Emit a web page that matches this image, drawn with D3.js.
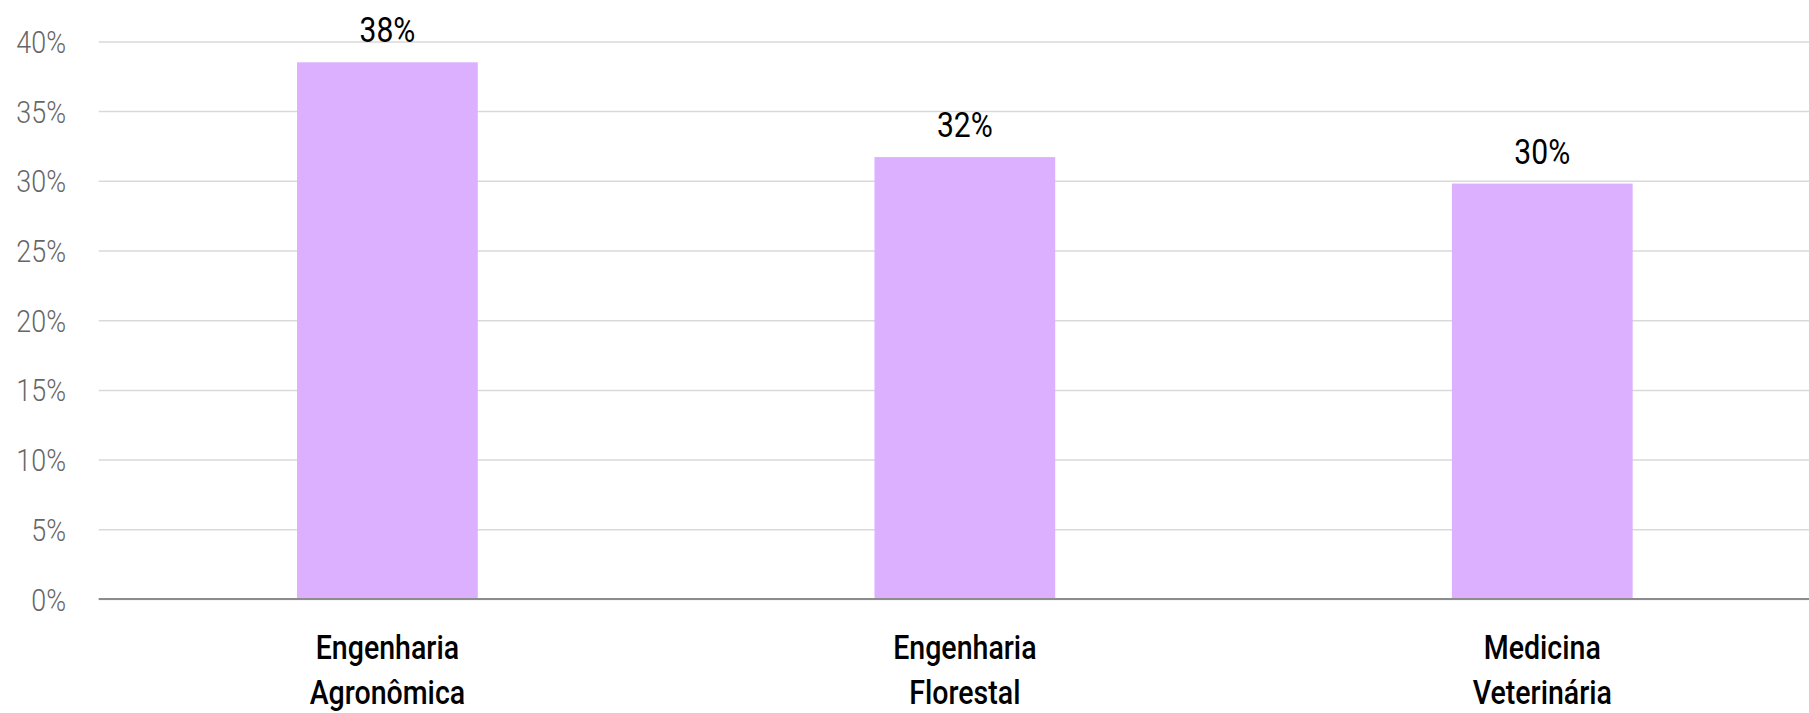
<!DOCTYPE html>
<html>
<head>
<meta charset="utf-8">
<script src="https://cdn.jsdelivr.net/npm/d3@7"></script>
<style>
    body { margin: 0; background: #fff; }
    svg { display: block; font-family: Roboto, "Noto Sans", sans-serif; }
</style>
</head>
<body>
<svg id="chart"></svg>
<script>
// categories (each split over two lines) and their shares
var categories = ['Engenharia Agronômica', 'Engenharia Florestal', 'Medicina Veterinária'];
var labelLines = [['Engenharia', 'Agronômica'], ['Engenharia', 'Florestal'], ['Medicina', 'Veterinária']];
var values = [0.385, 0.317, 0.298];
var valueLabels = ['38%', '32%', '30%'];
var yTicks = [0, 0.05, 0.10, 0.15, 0.20, 0.25, 0.30, 0.35, 0.40];

var width = 1809, height = 713;
var margin = {left: 98.7, top: 41.4, bottom: 599};
var squeeze = 0.84; // the original font is a condensed one

var svg = d3.select('#chart')
    .attr('width', width)
    .attr('height', height);

var x = d3.scaleBand()
    .domain(categories)
    .range([margin.left, 1831])
    .paddingInner(0.687)
    .paddingOuter(0.3435);

var y = d3.scaleLinear()
    .domain([0, 0.4])
    .range([margin.bottom, margin.top]);

var fmt = d3.format('.0%');

// gridlines
var grid = svg.append('g')
    .attr('transform', 'translate(' + margin.left + ',0)')
    .call(d3.axisLeft(y).tickValues(yTicks).tickSize(-(width - margin.left)).tickFormat(''));
grid.select('.domain').remove();
grid.selectAll('line')
    .attr('stroke', '#d9d9d9')
    .attr('stroke-width', 1.5);

// y tick labels, squeezed sideways
svg.append('g').selectAll('text')
    .data(yTicks)
    .join('text')
    .attr('transform', d => 'translate(66,' + y(d) + ') scale(' + squeeze + ',1)')
    .attr('dy', '0.36em')
    .attr('text-anchor', 'end')
    .attr('fill', '#666')
    .style('font-size', '32px')
    .style('font-weight', 300)
    .text(fmt);

// bars
svg.append('g').selectAll('rect')
    .data(categories)
    .join('rect')
    .attr('x', d => x(d))
    .attr('width', x.bandwidth())
    .attr('y', (d, i) => y(values[i]))
    .attr('height', (d, i) => y(0) - y(values[i]))
    .attr('fill', '#dcb0fe');

// baseline
svg.append('line')
    .attr('x1', margin.left)
    .attr('x2', width)
    .attr('y1', y(0))
    .attr('y2', y(0))
    .attr('stroke', '#8c8c8c')
    .attr('stroke-width', 2);

// value labels
svg.append('g').selectAll('text')
    .data(categories)
    .join('text')
    .attr('transform', (d, i) => 'translate(' + (x(d) + x.bandwidth() / 2) + ',' + (y(values[i]) - 20) + ') scale(0.86,1)')
    .attr('text-anchor', 'middle')
    .attr('fill', '#000')
    .style('font-size', '35px')
    .text((d, i) => valueLabels[i]);

// category labels
var catLabels = svg.append('g').selectAll('text')
    .data(categories)
    .join('text')
    .attr('transform', d => 'translate(' + (x(d) + x.bandwidth() / 2) + ',0) scale(' + squeeze + ',1)')
    .attr('text-anchor', 'middle')
    .attr('fill', '#000')
    .style('font-size', '34px')
    .style('font-weight', 500);

catLabels.selectAll('tspan')
    .data((d, i) => labelLines[i])
    .join('tspan')
    .attr('x', 0)
    .attr('y', (d, j) => 659 + j * 45)
    .text(d => d);
</script>
</body>
</html>
